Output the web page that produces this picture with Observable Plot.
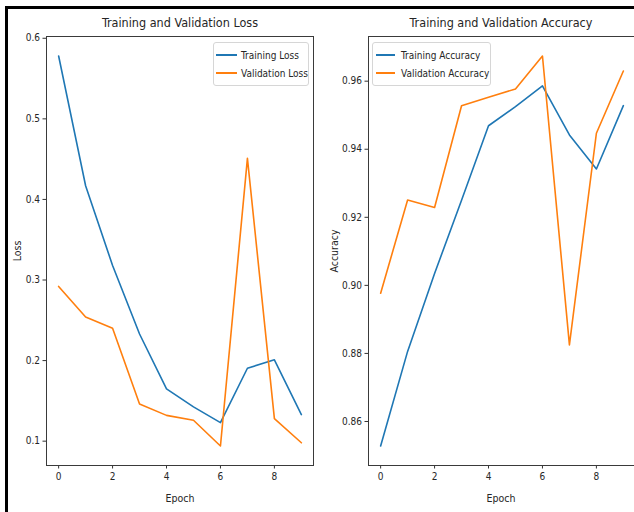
<!DOCTYPE html>
<html><head><meta charset="utf-8">
<script src="https://cdn.jsdelivr.net/npm/d3@7"></script>
<script src="https://cdn.jsdelivr.net/npm/@observablehq/plot@0.6"></script>
<style>
body{margin:0;background:#fff;}
#wrap{position:relative;width:634px;height:512px;overflow:hidden;background:#fff;font-family:"DejaVu Sans Condensed","DejaVu Sans",sans-serif;color:#262626;}
.abs{position:absolute;}
.ctr{position:absolute;transform:translate(-50%,-50%);white-space:nowrap;}
.title{font-size:12.5px;}
.lab{font-size:10.5px;}
.rot{transform:translate(-50%,-50%) rotate(-90deg);}
.legend{position:absolute;border:1px solid #d6d6d6;border-radius:3px;background:rgba(255,255,255,0.85);box-sizing:border-box;font-size:10px;}
.item{position:absolute;white-space:nowrap;}
.item .sw{position:absolute;height:2px;top:0;}
.item span{position:absolute;transform:translateY(-50%) scaleY(1.12);white-space:nowrap;}
.bar{position:absolute;background:#000;}
</style></head><body><div id="wrap"></div>
<script>
const epochs = [0,1,2,3,4,5,6,7,8,9];
const trainLoss = [0.578,0.417,0.318,0.233,0.165,0.1425,0.123,0.1905,0.201,0.133];
const valLoss   = [0.292,0.254,0.240,0.146,0.132,0.126,0.094,0.451,0.128,0.098];
const trainAcc  = [0.8528,0.8806,0.9035,0.925,0.9469,0.9525,0.9586,0.9442,0.9342,0.9528];
const valAcc    = [0.8977,0.9251,0.9229,0.9528,0.9553,0.9577,0.9674,0.8825,0.9447,0.963];
const xTicks = [0,2,4,6,8];
const lossTicks = [0.1,0.2,0.3,0.4,0.5,0.6];
const accTicks = [0.86,0.88,0.90,0.92,0.94,0.96];
const lossSeries = ["Training Loss","Validation Loss"];
const accSeries = ["Training Accuracy","Validation Accuracy"];
const colors = ["#1f77b4","#ff7f0e"];

const wrap = document.getElementById("wrap");
function pad(vals){const [a,b]=d3.extent(vals);const m=(b-a)*0.05;return [a-m,b+m];}
function rows(names, arrs){const r=[];names.forEach((n,i)=>arrs[i].forEach((v,j)=>r.push({epoch:epochs[j],value:v,series:n})));return r;}
const xDom = pad(epochs);

function makePlot(opts){
  const p = Plot.plot({
    width: opts.width, height: 512,
    marginLeft: opts.ml, marginRight: opts.mr, marginTop: 36, marginBottom: 47,
    style:{fontFamily:'"DejaVu Sans Condensed","DejaVu Sans",sans-serif',fontSize:"10px",color:"#262626",background:"transparent",overflow:"visible"},
    x:{domain:xDom},
    y:{domain:pad(opts.values)},
    color:{domain:opts.names,range:colors},
    marks:[
      Plot.axisX({ticks:xTicks,tickSize:3.5,tickPadding:3.5,label:null,stroke:"#333"}),
      Plot.axisY({ticks:opts.ticks,tickFormat:d3.format(opts.fmt),tickSize:3.5,tickPadding:3,label:null,stroke:"#333"}),
      Plot.line(rows(opts.names,opts.arrs),{x:"epoch",y:"value",z:"series",stroke:"series",strokeWidth:1.6}),
      Plot.frame({stroke:"#3a3a3a",strokeWidth:1})
    ]
  });
  p.style.position="absolute"; p.style.left=opts.left+"px"; p.style.top="0px";
  wrap.appendChild(p);
}
makePlot({width:317,left:0,ml:46,mr:4,values:trainLoss.concat(valLoss),names:lossSeries,arrs:[trainLoss,valLoss],ticks:lossTicks,fmt:".1f"});
makePlot({width:320,left:317,ml:51,mr:2,values:trainAcc.concat(valAcc),names:accSeries,arrs:[trainAcc,valAcc],ticks:accTicks,fmt:".2f"});

function addText(cls,txt,x,y){const d=document.createElement("div");d.className=cls;d.textContent=txt;d.style.left=x+"px";d.style.top=y+"px";wrap.appendChild(d);}
addText("ctr title","Training and Validation Loss",180,22);
addText("ctr title","Training and Validation Accuracy",501,22);
addText("ctr lab","Epoch",180,498);
addText("ctr lab","Epoch",501,498);
addText("ctr lab rot","Loss",17,251);
addText("ctr lab rot","Accuracy",334,251);

function legend(names,left,width,lineL,lineW,textL){
  const b=document.createElement("div");b.className="legend";
  b.style.left=left+"px";b.style.top="42px";b.style.width=width+"px";b.style.height="44px";
  wrap.appendChild(b);
  names.forEach((n,i)=>{
    const y=[11.5,30][i];
    const it=document.createElement("div");it.className="item";it.style.left="0px";it.style.top=y+"px";
    const sw=document.createElement("div");sw.className="sw";sw.style.left=(lineL-left)+"px";sw.style.width=lineW+"px";sw.style.background=colors[i];sw.style.top="-1px";
    const sp=document.createElement("span");sp.textContent=n;sp.style.left=(textL-left)+"px";
    it.appendChild(sw);it.appendChild(sp);b.appendChild(it);
  });
}
legend(lossSeries,213,96,215,21,240);
legend(accSeries,372,119,375,19,400);

const bars=[[5,6,2.5,506],[5,6,629,2.5]];
bars.forEach(([l,t,w,h])=>{const d=document.createElement("div");d.className="bar";d.style.left=l+"px";d.style.top=t+"px";d.style.width=w+"px";d.style.height=h+"px";wrap.appendChild(d);});
</script>
</body></html>
